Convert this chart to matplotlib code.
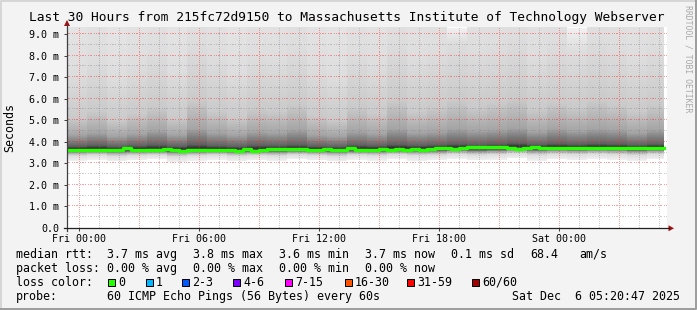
import numpy as np
import matplotlib
matplotlib.use('Agg')
import matplotlib.pyplot as plt
import matplotlib.dates as mdates
from matplotlib.patches import Polygon, Rectangle
from datetime import datetime, timedelta

plt.rcParams['font.family'] = 'DejaVu Sans Mono'

# --- datos ---
titulo = "Last 30 Hours from 215fc72d9150 to Massachusetts Institute of Technology Webserver"
inicio = datetime(2025, 12, 4, 23, 24)
fin_datos = datetime(2025, 12, 6, 5, 15)
paso_mediana_min = 24

# mediana rtt (ms), un valor cada 24 min
mediana_ms = [3.62, 3.61, 3.61, 3.60, 3.61, 3.60, 3.62, 3.71, 3.63, 3.61,
              3.60, 3.62, 3.67, 3.62, 3.58, 3.60, 3.61, 3.61, 3.60, 3.61,
              3.61, 3.59, 3.68, 3.56, 3.64, 3.67, 3.67, 3.65, 3.67, 3.68,
              3.64, 3.62, 3.66, 3.64, 3.62, 3.70, 3.64, 3.64, 3.64, 3.67,
              3.60, 3.65, 3.63, 3.68, 3.62, 3.67, 3.70, 3.69, 3.68, 3.70,
              3.78, 3.76, 3.76, 3.77, 3.76, 3.72, 3.66, 3.71, 3.75, 3.71,
              3.69, 3.70, 3.70, 3.72, 3.70, 3.71, 3.69, 3.69, 3.72, 3.72,
              3.70, 3.70, 3.69, 3.69, 3.69]

# "humo": cuantiles de los pings por hora (ms)
humo_niveles = [0.0, 0.05, 0.20, 0.38, 0.62, 0.80, 0.90, 0.95, 1.0]
humo_min = [3.12, 3.18, 3.10, 3.15, 3.20, 3.08, 3.14, 3.18, 3.10, 3.16,
            3.12, 3.20, 3.15, 3.10, 3.18, 3.14, 3.20, 3.12, 3.16, 3.22,
            3.15, 3.18, 3.24, 3.14, 3.20, 3.16, 3.22, 3.18, 3.12, 3.20]
humo_p05 = [3.36, 3.40, 3.34, 3.38, 3.40, 3.32, 3.37, 3.40, 3.35, 3.38,
            3.36, 3.41, 3.38, 3.34, 3.40, 3.37, 3.42, 3.38, 3.40, 3.44,
            3.40, 3.42, 3.47, 3.40, 3.44, 3.42, 3.45, 3.42, 3.38, 3.44]
humo_p20 = [3.50, 3.52, 3.49, 3.51, 3.52, 3.48, 3.50, 3.52, 3.49, 3.51,
            3.50, 3.53, 3.51, 3.49, 3.52, 3.51, 3.54, 3.52, 3.53, 3.57,
            3.54, 3.56, 3.60, 3.55, 3.58, 3.56, 3.58, 3.57, 3.54, 3.57]
humo_p38 = [3.58, 3.59, 3.57, 3.58, 3.59, 3.56, 3.58, 3.59, 3.57, 3.58,
            3.58, 3.60, 3.59, 3.57, 3.59, 3.58, 3.61, 3.60, 3.61, 3.64,
            3.62, 3.64, 3.68, 3.63, 3.66, 3.64, 3.66, 3.65, 3.62, 3.65]
humo_p62 = [3.80, 3.84, 3.78, 3.82, 3.86, 3.80, 3.88, 3.82, 3.79, 3.84,
            3.83, 3.86, 3.80, 3.78, 3.85, 3.82, 3.88, 3.84, 3.86, 3.90,
            3.87, 3.90, 3.94, 3.88, 3.92, 3.89, 3.92, 3.90, 3.86, 3.90]
humo_p80 = [4.30, 4.40, 4.25, 4.35, 4.50, 4.30, 4.60, 4.40, 4.30, 4.45,
            4.40, 4.55, 4.30, 4.25, 4.45, 4.35, 4.60, 4.40, 4.45, 4.60,
            4.50, 4.55, 4.65, 4.45, 4.60, 4.50, 4.60, 4.55, 4.40, 4.55]
humo_p90 = [5.1, 5.4, 5.0, 5.3, 5.6, 5.1, 5.9, 5.4, 5.1, 5.5,
            5.4, 5.7, 5.2, 5.0, 5.6, 5.3, 5.9, 5.4, 5.6, 5.9,
            5.6, 5.8, 6.0, 5.5, 5.8, 5.6, 5.9, 5.7, 5.4, 5.7]
humo_p95 = [7.2, 7.8, 7.0, 7.6, 8.2, 7.3, 8.6, 7.9, 7.2, 8.0,
            7.8, 8.4, 7.5, 7.0, 8.1, 7.6, 8.7, 7.9, 8.2, 8.6,
            8.3, 8.5, 8.9, 8.0, 8.6, 8.2, 8.8, 8.4, 7.9, 8.4]
humo_max = [14.0, 15.5, 13.0, 14.5, 16.0, 13.5, 17.0, 15.0, 13.5, 15.5,
            15.0, 16.5, 14.0, 13.0, 16.0, 14.5, 17.0, 15.0, 15.5, 9.25,
            16.0, 16.5, 17.5, 15.5, 16.5, 9.25, 17.0, 16.0, 15.0, 16.0]

etiquetas_y = ['0.0', '1.0 m', '2.0 m', '3.0 m', '4.0 m', '5.0 m',
               '6.0 m', '7.0 m', '8.0 m', '9.0 m']

rtt_textos = ["3.7 ms avg", "3.8 ms max", "3.6 ms min", "3.7 ms now", "0.1 ms sd", "68.4", "am/s"]
perdida_textos = ["0.00 % avg", "0.00 % max", "0.00 % min", "0.00 % now"]
perdida_etiquetas = ['0', '1', '2-3', '4-6', '7-15', '16-30', '31-59', '60/60']
perdida_colores = ['#26ff00', '#00b8ff', '#0059ff', '#7e00ff', '#ff00ff', '#ff5500', '#ff0000', '#a10000']
sonda_texto = "60 ICMP Echo Pings (56 Bytes) every 60s"
fecha_texto = "Sat Dec  6 05:20:47 2025"

# --- figura ---
W, H = 697, 310
fig = plt.figure(figsize=(W / 100, H / 100), dpi=100, facecolor='#f3f3f3')

# area del grafico (pixeles: x 67..667, y 27..228)
ax = fig.add_axes([67 / W, 82 / H, 600 / W, 201 / H])
ax.set_facecolor('white')
x0 = mdates.date2num(inicio)
x1 = mdates.date2num(inicio + timedelta(hours=30))
ms_por_px = 1 / 21.56
dia_por_px = (x1 - x0) / 600
ymax = 201 * ms_por_px
ax.set_xlim(x0, x1)
ax.set_ylim(0, ymax)
for s in ax.spines.values():
    s.set_visible(False)

# humo: gris segun el rango del ping (como smokeping: oscuro en la mediana)
t_humo = [mdates.date2num(inicio + timedelta(hours=i)) for i in range(len(humo_min))]
t_humo.append(mdates.date2num(fin_datos))
y_bordes = np.linspace(0, ymax, 403)
y_centros = (y_bordes[:-1] + y_bordes[1:]) / 2
cuantiles = np.array([humo_min, humo_p05, humo_p20, humo_p38, humo_p62,
                      humo_p80, humo_p90, humo_p95, humo_max])
grises = np.full((len(y_centros), len(humo_min)), np.nan)
for c in range(len(humo_min)):
    q = cuantiles[:, c]
    p = np.interp(y_centros, q, humo_niveles)
    dentro = (y_centros >= q[0]) & (y_centros <= q[-1])
    grises[dentro, c] = 50 + 190 * np.abs(1 - 2 * p[dentro])
grises = np.ma.masked_invalid(grises)
ax.pcolormesh(t_humo, y_bordes, grises, cmap='gray', vmin=0, vmax=255,
              shading='flat', edgecolors='none', antialiased=False, zorder=1)

# rejilla punteada (un pixel si, uno no)
hora = datetime(2025, 12, 5, 0, 0)
horas = []
while hora <= inicio + timedelta(hours=30):
    horas.append(hora)
    hora += timedelta(hours=1)
gris = (0.5, 0.5, 0.5, 0.38)
rojo = (1.0, 0.15, 0.15, 0.45)
puntos_x = x0 + dia_por_px * np.arange(0.5, 600, 2)
puntos_y = ms_por_px * np.arange(0.5, 201, 2)
for h in horas:
    xv = mdates.date2num(h)
    c = rojo if h.hour % 3 == 0 else gris
    ax.plot(np.full_like(puntos_y, xv), puntos_y, ls='none', marker=',', color=c, zorder=2)
for i in range(1, 19):
    c = rojo if i % 2 == 0 else gris
    ax.plot(puntos_x, np.full_like(puntos_x, i * 0.5), ls='none', marker=',', color=c, zorder=2)

# mediana
t_med = [mdates.date2num(inicio + timedelta(minutes=paso_mediana_min * i)) for i in range(len(mediana_ms))]
t_med.append(mdates.date2num(fin_datos))
ax.step(t_med, mediana_ms + [mediana_ms[-1]], where='post', color='#26ff00', lw=2.4, zorder=3)

# ejes
ax.xaxis.set_major_locator(mdates.HourLocator(byhour=[0, 6, 12, 18]))
ax.xaxis.set_major_formatter(mdates.DateFormatter('%a %H:%M'))
ax.set_yticks(range(len(etiquetas_y)))
ax.set_yticklabels(etiquetas_y)
ax.tick_params(axis='both', length=2.5, width=0.72, color='#404040', labelsize=7.2, pad=2)
ax.tick_params(axis='y', pad=3)

# capa en pixeles para textos, flechas y marco
ov = fig.add_axes([0, 0, 1, 1], facecolor='none')
ov.set_xlim(0, W)
ov.set_ylim(H, 0)
ov.axis('off')
ov.set_zorder(5)

ov.plot([67, 67], [231, 25], color='#404040', lw=0.9)
ov.plot([64, 669], [228.3, 228.3], color='#202020', lw=0.9)
ov.add_patch(Polygon([[67, 20], [64, 26], [70, 26]], closed=True, color='#a01010', lw=0))
ov.add_patch(Polygon([[674, 228.3], [668.5, 225.3], [668.5, 231.3]], closed=True, color='#a01010', lw=0))

ov.text(346.5, 18, titulo, fontsize=9.3, ha='center', va='center', color='black')
ov.text(10, 127, 'Seconds', fontsize=8.4, rotation=90, ha='center', va='center')
ov.text(688, 59, 'RRDTOOL / TOBI OETIKER', fontsize=5.9, rotation=270,
        ha='center', va='center', color='#a8a8a8')

fs = 8.4
cols = [107, 193, 279, 365, 451, 530, 579]
ov.text(16, 254.3, 'median rtt:', fontsize=fs, va='center')
for x, s in zip(cols, rtt_textos):
    ov.text(x, 254.3, s, fontsize=fs, va='center')
ov.text(16, 268.3, 'packet loss:', fontsize=fs, va='center')
for x, s in zip(cols, perdida_textos):
    ov.text(x, 268.3, s, fontsize=fs, va='center')
ov.text(16, 282.3, 'loss color:', fontsize=fs, va='center')
cajas_x = [108.3, 145.7, 182.3, 233.3, 285, 345, 407.3, 472.3]
for x, lab, c in zip(cajas_x, perdida_etiquetas, perdida_colores):
    ov.add_patch(Rectangle((x, 278.6), 7, 7, facecolor=c, edgecolor='black', lw=0.72))
    ov.text(x + 10, 282.3, lab, fontsize=fs, va='center')
ov.text(16, 296.3, 'probe:', fontsize=fs, va='center')
ov.text(107, 296.3, sonda_texto, fontsize=fs, va='center')
ov.text(680, 296.3, fecha_texto, fontsize=fs, va='center', ha='right')

# marco
ov.plot([1, 1, W - 1], [H - 1, 1, 1], color='#d6d6d6', lw=1.4)
ov.plot([1, W - 1, W - 1], [H - 1, H - 1, 1], color='#9c9c9c', lw=1.4)

fig.savefig('out.png', dpi=100, facecolor=fig.get_facecolor())
